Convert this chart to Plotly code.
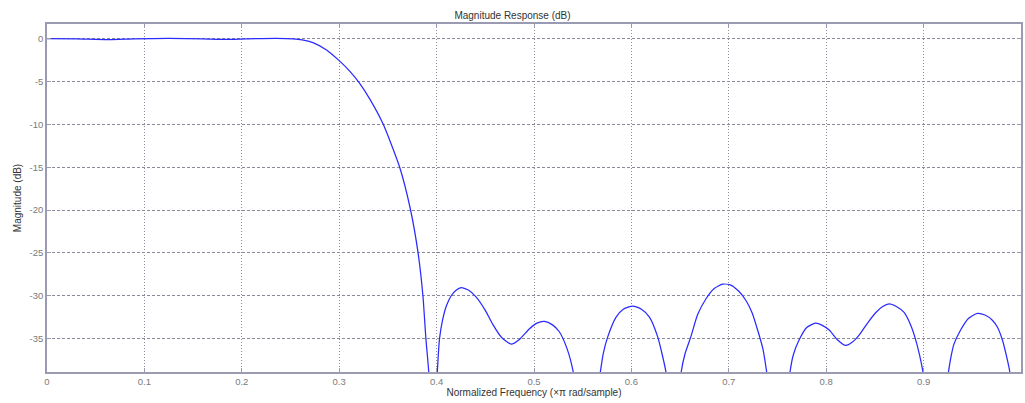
import plotly.graph_objects as go

freq = [0.0, 0.03, 0.063, 0.09, 0.125, 0.16, 0.183, 0.205, 0.235, 0.2526,
        0.262, 0.273, 0.287, 0.3, 0.311, 0.321, 0.331, 0.345, 0.362, 0.373,
        0.381, 0.386, 0.389, 0.392, 0.3963,
        0.4007, 0.403, 0.406, 0.41, 0.415, 0.42, 0.4253, 0.433, 0.4407, 0.45, 0.458, 0.467,
        0.4766, 0.485, 0.4954, 0.503, 0.5108, 0.519, 0.526, 0.534, 0.5405, 0.554,
        0.568, 0.571, 0.5757, 0.5843, 0.592, 0.6014, 0.61, 0.6185, 0.627, 0.6315, 0.6356, 0.643,
        0.651, 0.655, 0.661, 0.668, 0.6766, 0.685, 0.6937, 0.702, 0.71, 0.7176, 0.724,
        0.7296, 0.735, 0.739, 0.751,
        0.7627, 0.766, 0.772, 0.78, 0.789, 0.796, 0.8031, 0.812, 0.82, 0.827, 0.8338,
        0.843, 0.851, 0.858, 0.8646, 0.872, 0.88, 0.887, 0.892, 0.896, 0.8995, 0.912,
        0.9254, 0.928, 0.931, 0.938, 0.946, 0.9552, 0.963, 0.9706, 0.976, 0.981, 0.985, 0.9887, 1.0]
mag_db = [0.03, 0.0, -0.08, 0.0, 0.05, 0.0, -0.06, 0.0, 0.05, 0.0,
          -0.12, -0.45, -1.3, -2.55, -3.8, -5.2, -6.95, -9.92, -14.97, -19.84,
          -25.0, -30.05, -35.0, -39.0, -50.0,
          -39.0, -35.0, -32.9, -31.2, -30.0, -29.35, -29.05, -29.35, -30.15, -31.7, -33.4, -34.9,
          -35.65, -35.1, -33.85, -33.2, -33.0, -33.4, -34.2, -36.2, -39.0, -50.0,
          -39.0, -36.8, -34.8, -32.5, -31.55, -31.2, -31.55, -32.5, -34.8, -36.8, -39.0, -50.0,
          -39.0, -36.8, -34.8, -32.2, -30.35, -29.15, -28.65, -28.75, -29.45, -30.55, -32.0,
          -34.0, -36.2, -39.0, -50.0,
          -39.0, -37.0, -35.2, -33.7, -33.2, -33.45, -34.0, -35.2, -35.8, -35.4, -34.6,
          -33.1, -31.95, -31.25, -30.95, -31.25, -31.95, -33.5, -35.2, -37.0, -39.0, -50.0,
          -39.0, -37.2, -35.7, -34.0, -32.65, -32.05, -32.25, -32.85, -33.7, -35.2, -37.0, -39.0, -50.0]

x_ticks = [0, 0.1, 0.2, 0.3, 0.4, 0.5, 0.6, 0.7, 0.8, 0.9]
x_tick_labels = ["0", "0.1", "0.2", "0.3", "0.4", "0.5", "0.6", "0.7", "0.8", "0.9"]
y_ticks = [0, -5, -10, -15, -20, -25, -30, -35]
y_tick_labels = ["0", "-5", "-10", "-15", "-20", "-25", "-30", "-35"]

axis_col = "#9a9ab2"
grid_col = "#8a8a9a"
tick_font = dict(family="Liberation Sans, Arial, sans-serif", size=9.5, color="#7a7a7a")

fig = go.Figure()
fig.add_trace(go.Scatter(x=freq, y=mag_db, mode="lines",
                         line=dict(color="#2b2bff", width=1.25, shape="spline", smoothing=0.6),
                         hoverinfo="x+y", showlegend=False))

fig.update_layout(
    width=1025, height=403,
    margin=dict(l=47, r=2, t=24, b=31),
    paper_bgcolor="white", plot_bgcolor="white",
    title=dict(text="Magnitude Response (dB)", x=0.5, xanchor="center",
               y=1 - 15 / 403, yanchor="middle", yref="container",
               font=dict(family="Liberation Sans, Arial, sans-serif", size=10, color="#333333")),
    xaxis=dict(range=[0, 1], tickvals=x_ticks, ticktext=x_tick_labels,
               showline=True, linecolor=axis_col, linewidth=1.5, mirror="ticks",
               ticks="inside", ticklen=4, tickcolor=axis_col, tickwidth=1.2,
               showgrid=True, gridcolor=grid_col, gridwidth=1, griddash="1px,2px",
               zeroline=False, tickfont=tick_font,
               title=dict(text="Normalized Frequency (\u00d7\u03c0 rad/sample)", standoff=1,
                          font=dict(family="Liberation Sans, Arial, sans-serif", size=10, color="#333333"))),
    yaxis=dict(range=[-38.9, 1.73], tickvals=y_ticks, ticktext=y_tick_labels,
               showline=True, linecolor=axis_col, linewidth=1.5, mirror="ticks",
               ticks="inside", ticklen=4, tickcolor=axis_col, tickwidth=1.2,
               showgrid=True, gridcolor=grid_col, gridwidth=1, griddash="3px,2px",
               zeroline=False, tickfont=tick_font,
               title=dict(text="Magnitude (dB)", standoff=6,
                          font=dict(family="Liberation Sans, Arial, sans-serif", size=10, color="#333333"))),
)

fig.write_html("out.html")
